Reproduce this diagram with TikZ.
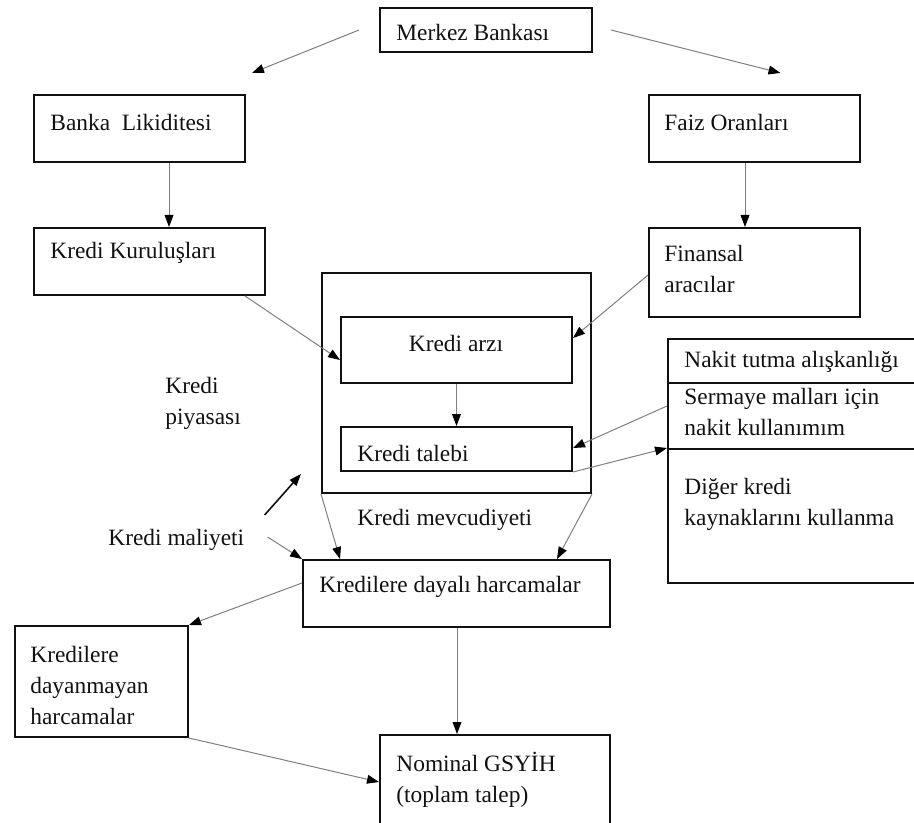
\documentclass[tikz,border=0pt]{standalone}
\usepackage{fontspec}
\setmainfont{Liberation Serif}
\usetikzlibrary{arrows.meta,calc,fit}
\definecolor{ink}{HTML}{111111}
\definecolor{wire}{HTML}{7F7F7F}
\tikzset{>={Triangle[length=6pt,width=4.4pt,color=black]},box/.style={draw=ink,line width=1pt,inner sep=0pt},arr/.style={->,wire,line width=.5pt},boldarr/.style={->,ink,line width=.8pt},txt/.style={inner sep=0pt,anchor=west,align=left,text=ink}}

\begin{document}
\begin{tikzpicture}[x=.5pt,y=-.5pt,font=\fontsize{11.7}{15.5}\selectfont]
\useasboundingbox (0,0) rectangle (914,823);
\clip (0,0) rectangle (914,823);
% boxes
\node[box,fit={(380,8) (592,52)}] (merkez) {};
\node[box,fit={(34,95) (245,162)}] (banka) {};
\node[box,fit={(649,95) (860,162)}] (faiz) {};
\node[box,fit={(34,228) (265,295)}] (kurulus) {};
\node[box,fit={(649,228) (860,317)}] (finansal) {};
\node[box,fit={(322,273) (591,493)}] (piyasa) {};
\node[box,fit={(341,317) (572,383)}] (arz) {};
\node[box,fit={(341,427) (572,471)}] (talep) {};
\node[box,fit={(668,339) (930,383)}] (nakit) {};
\node[box,fit={(668,383) (930,449)}] (sermaye) {};
\node[box,fit={(668,449) (930,583)}] (diger) {};
\node[box,fit={(303,560) (610,627)}] (dayali) {};
\node[box,fit={(15,626) (188,737)}] (dayanmayan) {};
\node[box,fit={(380,735) (610,850)}] (nominal) {};
% texts
\node[txt] (merkez-l) at (396,33) {Merkez Bankası};
\node[txt] (banka-l) at (50,122) {Banka\ \ Likiditesi};
\node[txt] (faiz-l) at (664,122) {Faiz Oranları};
\node[txt] (kurulus-l) at (50,253) {Kredi Kuruluşları};
\node[txt] (finansal-l) at (664,269) {Finansal\\aracılar};
\node[txt,anchor=center] (arz-l) at (456,343) {Kredi arzı};
\node[txt] (talep-l) at (357,453) {Kredi talebi};
\node[txt] (piyasa-l) at (165,403) {Kredi\\piyasası};
\node[txt] (nakit-l) at (684,362) {Nakit tutma alışkanlığı};
\node[txt] (sermaye-l) at (684,412) {Sermaye malları için\\nakit kullanımım};
\node[txt] (diger-l) at (684,504) {Diğer kredi\\kaynaklarını kullanma};
\node[txt] (mevcut) at (357,520) {Kredi mevcudiyeti};
\node[txt] (maliyet) at (108,540) {Kredi maliyeti};
\node[txt] (dayali-l) at (319,587) {Kredilere dayalı harcamalar};
\node[txt] (dayanmayan-l) at (30,685) {Kredilere\\dayanmayan\\harcamalar};
\node[txt] (nominal-l) at (396,780) {Nominal GSYİH\\(toplam talep)};
% connectors
\draw[arr] ($(merkez.west)+(-20,0)$) -- ($(banka.north east)+(6,-21)$);
\draw[arr] ($(merkez.east)+(18,0)$) -- ($(faiz.north)+(26,-21)$);
\draw[arr] (banka.south -| 169,0) -- (kurulus.north -| 169,0);
\draw[arr] (faiz.south -| 745,0) -- (finansal.north -| 745,0);
\draw[arr] (kurulus.south -| 245,0) -- (arz.west |- 0,360);
\draw[arr] (finansal.west |- 0,275) -- (arz.east |- 0,338);
\draw[arr] (arz) -- (talep);
\draw[arr] (sermaye.west |- 0,406) -- (talep.east |- 0,448);
\draw[arr] (talep.south east) -- (diger.north west);
\draw[boldarr] ($(maliyet.north east)+(20,-14)$) -- ($(piyasa.south west)+(-20,-20)$);
\draw[arr] ($(maliyet.east)+(23,-3)$) -- (dayali.north west);
\draw[arr] (piyasa.south west) -- (dayali.north -| 340,0);
\draw[arr] (piyasa.south east) -- (dayali.north -| 557,0);
\draw[arr] (dayali.west |- 0,583) -- (dayanmayan.north east);
\draw[arr] (dayali.south -| 457,0) -- (nominal.north -| 457,0);
\draw[arr] (dayanmayan.south east) -- (nominal.west |- 0,782);
\end{tikzpicture}
\end{document}
